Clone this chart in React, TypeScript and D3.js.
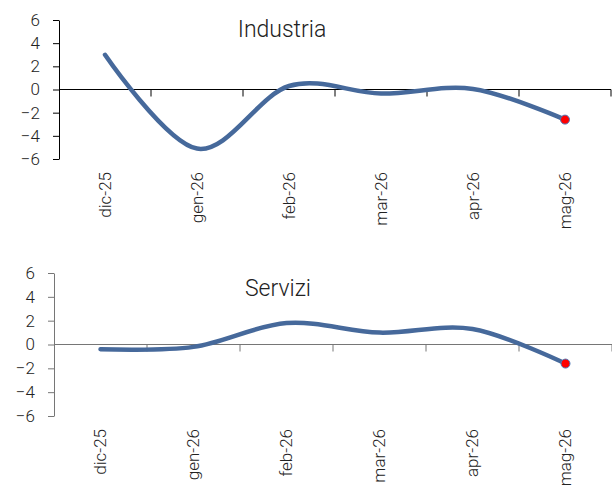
import { useEffect, useRef } from 'react';
import * as d3 from 'd3';

const months = ['dic-25', 'gen-26', 'feb-26', 'mar-26', 'apr-26', 'mag-26'];
const industria = [3.0, -5.1, 0.3, -0.35, 0.05, -2.6];
const servizi = [-0.4, -0.2, 1.8, 1.0, 1.3, -1.6];
const yTicks = [-6, -4, -2, 0, 2, 4, 6];

const lineColor = '#46699b';
const font = 'Roboto, "Liberation Sans", sans-serif';

interface Panel {
  title: string;
  values: number[];
  left: number;
  right: number;
  top: number;
  bottom: number;
  axisColor: string;
  titleX: number;
  titleY: number;
}

const panels: Panel[] = [
  { title: 'Industria', values: industria, left: 59, right: 611, top: 20, bottom: 159, axisColor: '#000000', titleX: 282, titleY: 37 },
  { title: 'Servizi', values: servizi, left: 54, right: 612, top: 273, bottom: 416, axisColor: '#767676', titleX: 278, titleY: 296 },
];

export default function App() {
  const svgRef = useRef<SVGSVGElement>(null);

  useEffect(() => {
    if (!svgRef.current) return;
    const root = d3.select(svgRef.current);
    root.selectAll('*').remove();

    panels.forEach(p => {
      const g = root.append('g');
      const x = d3.scaleBand<string>().domain(months).range([p.left, p.right]);
      const y = d3.scaleLinear().domain([-6, 6]).range([p.bottom, p.top]);

      // y axis
      const yAxis = g
        .append('g')
        .attr('transform', `translate(${p.left},0)`)
        .call(d3.axisLeft(y).tickValues(yTicks).tickSize(6).tickPadding(13).tickSizeOuter(0));
      yAxis.select('.domain').attr('stroke', p.axisColor);
      yAxis.selectAll('.tick line').attr('stroke', p.axisColor);
      yAxis
        .selectAll('.tick text')
        .attr('font-family', font)
        .attr('font-weight', 300)
        .attr('font-size', '17px')
        .attr('fill', '#222');

      // zero line with ticks at category boundaries
      const y0 = y(0);
      g.append('line')
        .attr('x1', p.left)
        .attr('x2', p.right)
        .attr('y1', y0)
        .attr('y2', y0)
        .attr('stroke', p.axisColor)
        .attr('stroke-width', 1);
      const bounds = months.map(m => x(m) as number).slice(1).concat([p.right]);
      g.selectAll('.xt')
        .data(bounds)
        .join('line')
        .attr('x1', d => d)
        .attr('x2', d => d)
        .attr('y1', y0)
        .attr('y2', y0 + 7)
        .attr('stroke', p.axisColor);

      // category labels
      g.selectAll('.xl')
        .data(months)
        .join('text')
        .attr('transform', d => `translate(${(x(d) as number) + x.bandwidth() / 2},${p.bottom + 13}) rotate(-90)`)
        .attr('text-anchor', 'end')
        .attr('dy', '0.35em')
        .attr('font-family', font)
        .attr('font-weight', 300)
        .attr('font-size', '17px')
        .attr('fill', '#222')
        .text(d => d);

      // title
      g.append('text')
        .attr('x', p.titleX)
        .attr('y', p.titleY)
        .attr('text-anchor', 'middle')
        .attr('font-family', font)
        .attr('font-weight', 300)
        .attr('font-size', '23px')
        .attr('fill', '#222')
        .text(p.title);

      // smoothed series
      const line = d3
        .line<number>()
        .x((_, i) => (x(months[i]) as number) + x.bandwidth() / 2)
        .y(d => y(d))
        .curve(d3.curveCatmullRom.alpha(0));
      g.append('path')
        .datum(p.values)
        .attr('d', line)
        .attr('fill', 'none')
        .attr('stroke', lineColor)
        .attr('stroke-width', 4.5)
        .attr('stroke-linecap', 'round');

      // last point marker
      const last = p.values.length - 1;
      g.append('circle')
        .attr('cx', (x(months[last]) as number) + x.bandwidth() / 2)
        .attr('cy', y(p.values[last]))
        .attr('r', 4.5)
        .attr('fill', '#ff0000')
        .attr('stroke', '#4f79b8')
        .attr('stroke-width', 1);
    });
  }, []);

  return (
    <svg
      ref={svgRef}
      width={612}
      height={493}
      style={{ position: 'absolute', left: 0, top: 0, background: '#fff' }}
    />
  );
}
